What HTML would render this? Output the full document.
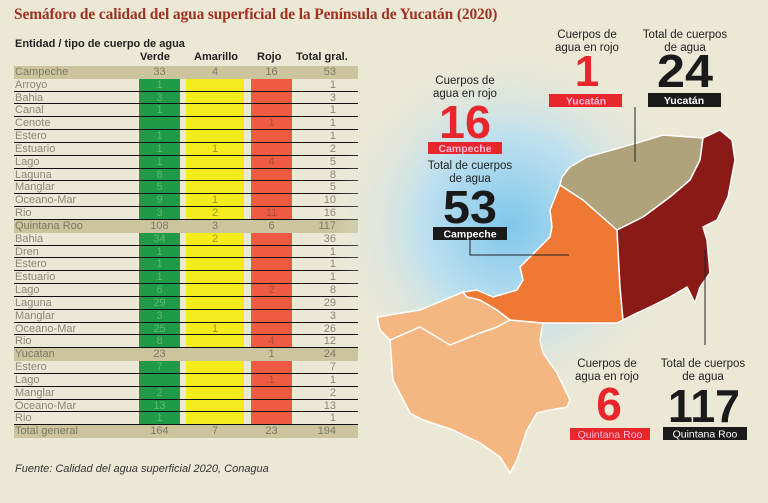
<!DOCTYPE html>
<html><head><meta charset="utf-8">
<style>
body{margin:0;width:768px;height:503px;background:#ebe8d6;overflow:hidden;position:relative;font-family:"Liberation Sans",sans-serif;}
#title{position:absolute;left:14px;top:6px;font-family:"Liberation Serif",serif;font-weight:bold;font-size:15.4px;color:#a0301f;white-space:nowrap;letter-spacing:-0.1px}
.h{position:absolute;font-size:11px;font-weight:bold;color:#222;white-space:nowrap}
#src{position:absolute;left:15px;top:463px;font-size:11px;font-style:italic;color:#333}
svg{position:absolute;left:0;top:0}
</style></head><body>
<div id="title">Semáforo de calidad del agua superficial de la Península de Yucatán (2020)</div>
<div class="h" style="left:15px;top:38px">Entidad / tipo de cuerpo de agua</div>
<div class="h" style="left:140px;top:51px">Verde</div>
<div class="h" style="left:194px;top:51px">Amarillo</div>
<div class="h" style="left:257px;top:51px">Rojo</div>
<div class="h" style="left:296px;top:51px">Total gral.</div>
<div id="tbl"></div>
<div id="src">Fuente: Calidad del agua superficial 2020, Conagua</div>
<svg width="768" height="503" id="map">
<defs><radialGradient id="glow" cx="510" cy="225" r="180" gradientUnits="userSpaceOnUse">
<stop offset="0" stop-color="#7fc7ec"/><stop offset="0.5" stop-color="#bfe0ee"/><stop offset="1" stop-color="#ebe8d6" stop-opacity="0"/></radialGradient></defs>
<ellipse cx="530" cy="235" rx="210" ry="180" fill="url(#glow)"/>
<g stroke="#fff" stroke-width="1.5" stroke-linejoin="round">
<polygon fill="#f4b781" points="377,317 420,310 463,292 467,297 480,300 497,310 510,320 543,323 540,340 543,353 557,373 570,400 567,407 550,410 537,413 527,430 517,460 510,473 500,457 480,443 453,430 423,420 410,413 393,380 390,340 380,330"/>
<polyline fill="none" points="390,340 420,327 450,345 480,333 497,327 510,320"/>
<polygon fill="#ee7934" points="560,185 583,200 617,230 620,287 623,320 617,323 543,323 510,320 497,310 480,300 467,297 463,292 477,290 493,297 517,290 523,280 520,267 537,250 550,237 552,227 550,210"/>
<polygon fill="#b0a37c" points="562,177 570,167 587,157 637,143 663,135 703,138 700,160 690,180 670,197 643,217 617,230 583,200 560,185"/>
<polygon fill="#8a1a18" points="703,138 720,130 732,140 735,160 728,197 717,220 703,227 707,240 710,273 700,287 695,303 687,287 670,297 650,307 637,313 623,320 620,287 617,230 643,217 670,197 690,180 700,160"/>
</g>
<g stroke="#222" stroke-width="1" fill="none">
<polyline points="635,107 635,162"/>
<polyline points="470,240 470,255 569,255"/>
<polyline points="705,250 705,345"/>
</g>
<g font-family="Liberation Sans,sans-serif" text-anchor="middle">
<text x="587" y="38" font-size="11.5" fill="#222">Cuerpos de</text><text x="587" y="51" font-size="11.5" fill="#222">agua en rojo</text>
<text x="587" y="86" font-size="44" font-weight="bold" fill="#e8262b">1</text>
<rect x="549" y="94" width="73" height="13" fill="#e8262b"/><text x="586" y="104.5" font-size="10.5" font-weight="bold" fill="#fbd">Yucatán</text>
<text x="685" y="38" font-size="11.5" fill="#222">Total de cuerpos</text><text x="685" y="51" font-size="11.5" fill="#222">de agua</text>
<text x="685" y="87" font-size="46" font-weight="bold" fill="#1a1a1a" textLength="56" lengthAdjust="spacingAndGlyphs">24</text>
<rect x="648" y="93" width="73" height="14" fill="#1a1a1a"/><text x="684" y="104" font-size="10.5" font-weight="bold" fill="#fff">Yucatán</text>
<text x="465" y="84" font-size="11.5" fill="#222">Cuerpos de</text><text x="465" y="97" font-size="11.5" fill="#222">agua en rojo</text>
<text x="465" y="138" font-size="46" font-weight="bold" fill="#e8262b" textLength="52" lengthAdjust="spacingAndGlyphs">16</text>
<rect x="428" y="142" width="74" height="12" fill="#e8262b"/><text x="465" y="152" font-size="10.5" font-weight="bold" fill="#fbd">Campeche</text>
<text x="470" y="169" font-size="11.5" fill="#222">Total de cuerpos</text><text x="470" y="182" font-size="11.5" fill="#222">de agua</text>
<text x="470" y="223" font-size="46" font-weight="bold" fill="#1a1a1a" textLength="54" lengthAdjust="spacingAndGlyphs">53</text>
<rect x="433" y="227" width="74" height="13" fill="#1a1a1a"/><text x="470" y="237.5" font-size="10.5" font-weight="bold" fill="#fff">Campeche</text>
<text x="607" y="367" font-size="11.5" fill="#222">Cuerpos de</text><text x="607" y="380" font-size="11.5" fill="#222">agua en rojo</text>
<text x="609" y="420" font-size="46" font-weight="bold" fill="#e8262b">6</text>
<rect x="570" y="428" width="80" height="12" fill="#e8262b"/><text x="610" y="438" font-size="10.5" fill="#fbd">Quintana Roo</text>
<text x="703" y="367" font-size="11.5" fill="#222">Total de cuerpos</text><text x="703" y="380" font-size="11.5" fill="#222">de agua</text>
<text x="704" y="422" font-size="46" font-weight="bold" fill="#1a1a1a" textLength="72" lengthAdjust="spacingAndGlyphs">117</text>
<rect x="663" y="427" width="84" height="13" fill="#1a1a1a"/><text x="705" y="437.5" font-size="10.5" fill="#fff">Quintana Roo</text>
</g>
</svg>
<script>
const rowNames=["Campeche","Arroyo","Bahia","Canal","Cenote","Estero","Estuario","Lago","Laguna","Manglar","Oceano-Mar","Rio","Quintana Roo","Bahia","Dren","Estero","Estuario","Lago","Laguna","Manglar","Oceano-Mar","Rio","Yucatan","Estero","Lago","Manglar","Oceano-Mar","Rio","Total general"];
const rowIsState=[1,0,0,0,0,0,0,0,0,0,0,0,1,0,0,0,0,0,0,0,0,0,1,0,0,0,0,0,1];
const verde=[33,1,3,1,"",1,1,1,8,5,9,3,108,34,1,1,1,6,29,3,25,8,23,7,"",2,13,1,164];
const amarillo=[4,"","","","","",1,"","","",1,2,3,2,"","","","","","",1,"","","","","","","",7];
const rojo=[16,"","","",1,"","",4,"","","",11,6,"","","","",2,"","","",4,1,"",1,"","","",23];
const totalGral=[53,1,3,1,1,1,2,5,8,5,10,16,117,36,1,1,1,8,29,3,26,12,24,7,1,2,13,1,194];
const tbl=document.getElementById('tbl');
const top0=66,rh=12.83;
function div(css,txt){const d=document.createElement('div');d.style.cssText='position:absolute;'+css;if(txt!==undefined)d.textContent=txt;tbl.appendChild(d);return d;}
let start=null;
for(let i=0;i<=rowNames.length;i++){
  if(i<rowNames.length&&!rowIsState[i]){if(start===null)start=i;}
  else if(start!==null){
    const y=top0+start*rh,h=(i-start)*rh;
    const g=div(`left:139px;top:${y}px;width:41px;height:${h}px;background:#1f9a48`);
    
    
    const a=div(`left:186px;top:${y}px;width:58px;height:${h}px;background:#f4ec1c`);
    
    
    const r=div(`left:251px;top:${y}px;width:41px;height:${h}px;background:#ef5a43`);
    
    
    start=null;
  }
}
rowNames.forEach((n,i)=>{
  const y=top0+i*rh;
  if(rowIsState[i]){
    const b=div(`left:14px;top:${y}px;width:344px;height:${rh}px;background:#cbc49d`);
    
    
  }else{
    const l=div(`left:14px;top:${y+rh-1}px;width:344px;height:1px;background:#111`);
    
    
  }
  const c=rowIsState[i]?'#7d7a6a':'#8a877a';
  const lab=div(`left:15px;top:${y}px;font-size:11px;line-height:13px;color:${c}`,n);
  
  
  const vc=rowIsState[i]?c:'#5fb874',ac=rowIsState[i]?c:'#a39a2a',rc=rowIsState[i]?c:'#a8503a';
  const v=div(`left:139px;width:41px;text-align:center;top:${y}px;font-size:11px;line-height:13px;color:${vc}`,verde[i]);
  
  
  const a=div(`left:186px;width:58px;text-align:center;top:${y}px;font-size:11px;line-height:13px;color:${ac}`,amarillo[i]);
  
  
  const r=div(`left:251px;width:41px;text-align:center;top:${y}px;font-size:11px;line-height:13px;color:${rc}`,rojo[i]);
  
  
  const t=div(`left:300px;width:36px;text-align:right;top:${y}px;font-size:11px;line-height:13px;color:${c}`,totalGral[i]);
  
  
});
</script>
</body></html>
